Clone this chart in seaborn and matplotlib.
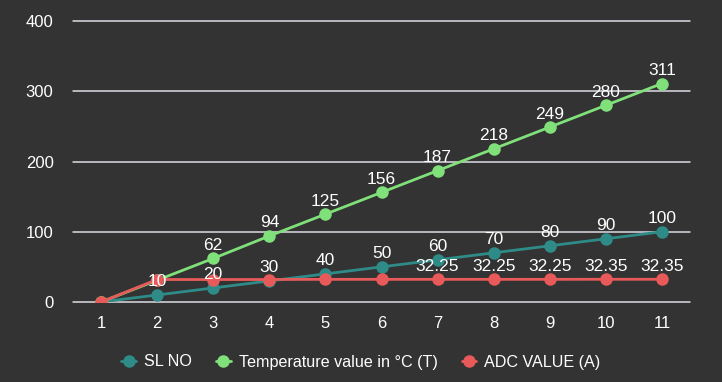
import pandas as pd
import matplotlib.pyplot as plt
import seaborn as sns

# 데이터
sl_no = [1, 2, 3, 4, 5, 6, 7, 8, 9, 10, 11]
sl_values = [0, 10, 20, 30, 40, 50, 60, 70, 80, 90, 100]
temp_values = [0, 31, 62, 94, 125, 156, 187, 218, 249, 280, 311]
adc_values = [0, 32, 32, 32, 32.25, 32.25, 32.25, 32.25, 32.25, 32.35, 32.35]

series_names = ['SL NO', 'Temperature value in °C (T)', 'ADC VALUE (A)']
series_colors = ['#2e8b87', '#80e07a', '#e85a5a']

# 라벨 표시 위치 (겹치는 라벨은 원본처럼 생략)
sl_label_idx = list(range(1, 11))
temp_label_idx = list(range(2, 11))
adc_label_idx = list(range(6, 11))

bg = '#333333'

df = pd.DataFrame({
    'x': sl_no * 3,
    'y': sl_values + temp_values + adc_values,
    'series': [series_names[0]] * 11 + [series_names[1]] * 11 + [series_names[2]] * 11,
})

sns.set_style('dark')
plt.rcParams['font.family'] = ['Liberation Sans', 'DejaVu Sans']

fig = plt.figure(figsize=(7.22, 3.82), dpi=100, facecolor=bg)
ax = fig.add_axes([73 / 722, 80 / 382, 617 / 722, 281 / 382])
ax.set_facecolor(bg)

# 그리드
for yv in [0, 100, 200, 300, 400]:
    ax.axhline(yv, color='#dcdce4', linewidth=1.1, zorder=0, clip_on=False)

sns.lineplot(data=df, x='x', y='y', hue='series', hue_order=series_names,
             palette=series_colors, marker='o', markersize=9, markeredgewidth=0,
             linewidth=2, ax=ax)

def add_labels(values, idxs):
    for i in idxs:
        v = values[i]
        txt = f'{v:.2f}' if v != int(v) else f'{int(v)}'
        ax.annotate(txt, (sl_no[i], v), xytext=(0, 4), textcoords='offset points',
                    ha='center', va='bottom', color='white', fontsize=12.5)

add_labels(sl_values, sl_label_idx)
add_labels(temp_values, temp_label_idx)
add_labels(adc_values, adc_label_idx)

ax.set_xlim(0.5, 11.5)
ax.set_ylim(0, 400)
ax.set_xticks(sl_no)
ax.set_yticks([0, 100, 200, 300, 400])
ax.set_xlabel('')
ax.set_ylabel('')
ax.tick_params(colors='white', labelsize=12, length=0)
ax.tick_params(axis='y', pad=14)
ax.tick_params(axis='x', pad=10)
ax.grid(False)
for s in ax.spines.values():
    s.set_visible(False)

handles, labels = ax.get_legend_handles_labels()
leg = fig.legend(handles, labels, loc='center', bbox_to_anchor=(0.5, 20 / 382),
                 ncol=3, frameon=False, fontsize=11.6, handlelength=0.9,
                 columnspacing=1.5, handletextpad=0.5)
for t in leg.get_texts():
    t.set_color('white')
ax.get_legend().remove()

fig.savefig('out.png', dpi=100, facecolor=bg)
